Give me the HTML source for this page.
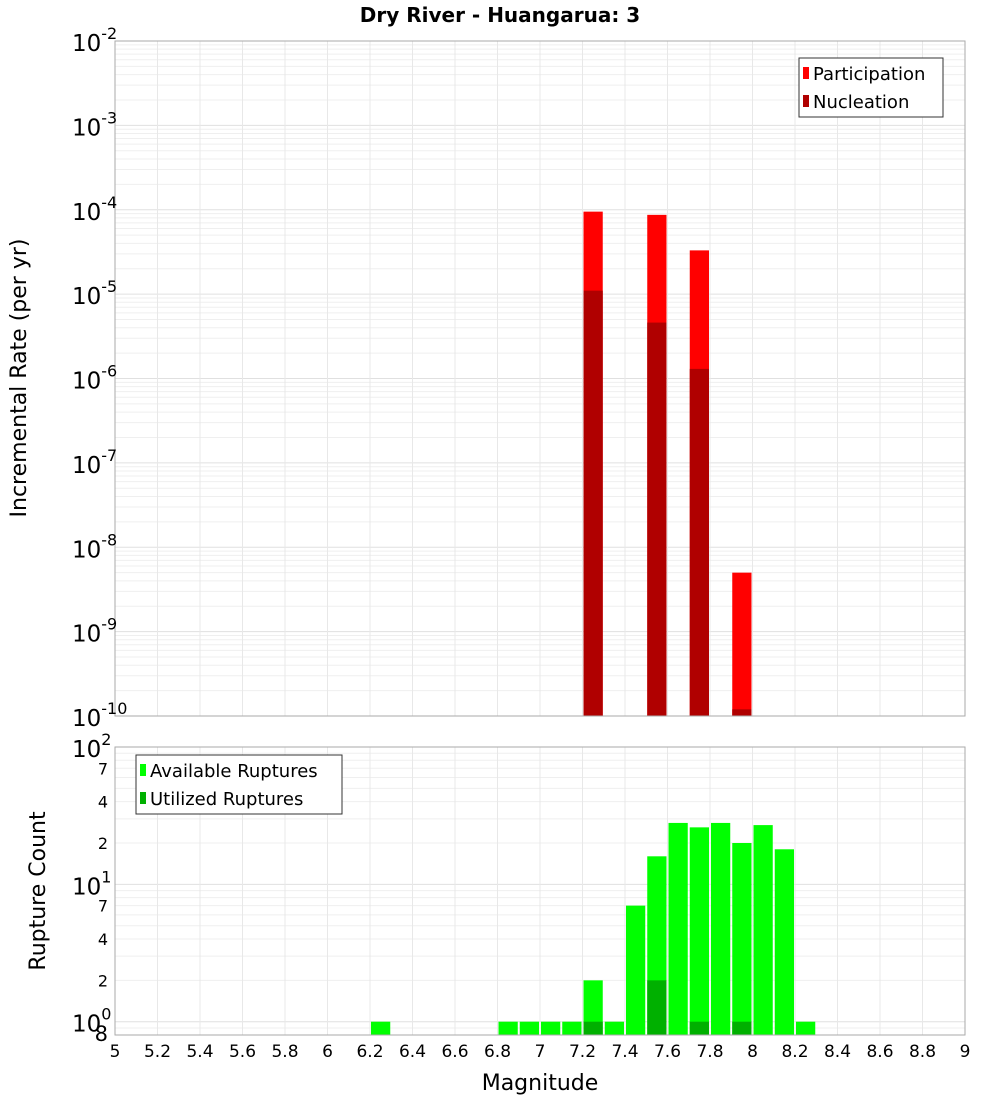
<!DOCTYPE html>
<html><head><meta charset="utf-8"><style>
body{margin:0;background:#fff;}
svg{font-family:"DejaVu Sans","Liberation Sans",sans-serif;}
</style></head><body>
<svg id="c" width="1000" height="1100" xmlns="http://www.w3.org/2000/svg">
<text x="500" y="22" text-anchor="middle" font-size="20" font-weight="bold">Dry River - Huangarua: 3</text>
<g id="top"></g>
<g id="bot"></g>
<text transform="translate(26,378) rotate(-90)" text-anchor="middle" font-size="22">Incremental Rate (per yr)</text>
<text transform="translate(45,891) rotate(-90)" text-anchor="middle" font-size="22">Rupture Count</text>
<text x="540" y="1090" text-anchor="middle" font-size="22">Magnitude</text>
</svg>
<script>
const magBins=[7.25,7.55,7.75,7.95];
const participation=[9.5e-5,8.7e-5,3.3e-5,5e-9];
const nucleation=[1.1e-5,4.6e-6,1.3e-6,1.2e-10];
const countBins=[6.25,6.85,6.95,7.05,7.15,7.25,7.35,7.45,7.55,7.65,7.75,7.85,7.95,8.05,8.15,8.25];
const available=[1,1,1,1,1,2,1,7,16,28,26,28,20,27,18,1];
const utilBins=[7.25,7.55,7.75,7.95];
const utilized=[1,2,1,1];
const xTicks=[5,5.2,5.4,5.6,5.8,6,6.2,6.4,6.6,6.8,7,7.2,7.4,7.6,7.8,8,8.2,8.4,8.6,8.8,9];
const topExp=[-2,-3,-4,-5,-6,-7,-8,-9,-10];
const botMinor=[7,4,2,7,4,2,8];
const botMinorVals=[70,40,20,7,4,2,0.8];

const NS="http://www.w3.org/2000/svg";
const L=115,R=965;
const X=m=>L+(m-5)/4*(R-L);
const T0=41,T1=716;
const yT=v=>T0+(-2-Math.log10(v))/8*(T1-T0);
const B0=747,B1=1035,bMin=Math.log10(0.8);
const yB=v=>B0+(2-Math.log10(v))/(2-bMin)*(B1-B0);
function mk(p,tag,a,txt){const e=document.createElementNS(NS,tag);for(const k in a)e.setAttribute(k,a[k]);if(txt!==undefined)e.textContent=txt;p.appendChild(e);return e;}
const topG=document.getElementById('top'),botG=document.getElementById('bot');

mk(topG,'rect',{x:L,y:T0,width:R-L,height:T1-T0,fill:'#fff'});
mk(botG,'rect',{x:L,y:B0,width:R-L,height:B1-B0,fill:'#fff'});
for(let d=-10;d<-2;d++)for(let k=1;k<10;k++){const y=yT(k*Math.pow(10,d));
 const g=mk(topG,'line',{x1:L,x2:R,y1:y,y2:y,stroke:k==1?'#e0e0e0':'#efefef','stroke-width':1});
 
 }
for(let d=-1;d<2;d++)for(let k=1;k<10;k++){const v=k*Math.pow(10,d);if(v<0.8)continue;const y=yB(v);
 const g=mk(botG,'line',{x1:L,x2:R,y1:y,y2:y,stroke:k==1?'#e0e0e0':'#efefef','stroke-width':1});
 
 }
xTicks.forEach(t=>{const x=X(t);
 let g=mk(topG,'line',{x1:x,x2:x,y1:T0,y2:T1,stroke:'#e8e8e8'});
 
 
 g=mk(botG,'line',{x1:x,x2:x,y1:B0,y2:B1,stroke:'#e8e8e8'});
 
 });

magBins.forEach((m,i)=>{
 let r=mk(topG,'rect',{x:X(m-0.05)+1,width:X(m+0.05)-X(m-0.05)-2,y:yT(participation[i]),height:T1-yT(participation[i]),fill:'#ff0000'});
 
 
 r=mk(topG,'rect',{x:X(m-0.05)+1,width:X(m+0.05)-X(m-0.05)-2,y:yT(nucleation[i]),height:T1-yT(nucleation[i]),fill:'#b00000'});
 
 });
countBins.forEach((m,i)=>{
 const r=mk(botG,'rect',{x:X(m-0.05)+1,width:X(m+0.05)-X(m-0.05)-2,y:yB(available[i]),height:B1-yB(available[i]),fill:'#00ff00'});
 
 });
utilBins.forEach((m,i)=>{
 const r=mk(botG,'rect',{x:X(m-0.05)+1,width:X(m+0.05)-X(m-0.05)-2,y:yB(utilized[i]),height:B1-yB(utilized[i]),fill:'#00b000'});
 
 });

mk(topG,'rect',{x:L,y:T0,width:R-L,height:T1-T0,fill:'none',stroke:'#aaa'});
mk(botG,'rect',{x:L,y:B0,width:R-L,height:B1-B0,fill:'none',stroke:'#aaa'});

topExp.forEach(e=>{const y=yT(Math.pow(10,e));
 const t=mk(topG,'text',{x:72,y:y+10,'font-size':23});
 
 
 mk(t,'tspan',{},'10');mk(t,'tspan',{dy:-12,'font-size':16},String(e));});
[[2,100],[1,10],[0,1]].forEach(([e,v])=>{const y=yB(v);
 const t=mk(botG,'text',{x:72,y:y+10,'font-size':23});
 
 
 mk(t,'tspan',{},'10');mk(t,'tspan',{dy:-12,'font-size':16},String(e));});
botMinor.forEach((lab,i)=>{const y=yB(botMinorVals[i]);
 const t=mk(botG,'text',{x:108,y:y+6,'font-size':i==6?21:16,'text-anchor':'end'},String(lab));
 
 });
xTicks.forEach(v=>{const t=mk(botG,'text',{x:X(v),y:1057,'font-size':17,'text-anchor':'middle'},String(v));
 
 });

function legend(p,x,y,w,items,name){const g=mk(p,'g',{});
 
 
 mk(g,'rect',{x:x,y:y,width:w,height:59,fill:'#fff',stroke:'#333'});
 items.forEach((it,i)=>{const cy=y+15+i*28;
  mk(g,'rect',{x:x+4,y:cy-6,width:6,height:12,fill:it[1]});
  const t=mk(g,'text',{x:x+14,y:cy+7,'font-size':18},it[0]);
  
  });}
legend(topG,799,58,144,[['Participation','#ff0000'],['Nucleation','#b00000']],'rate-legend');
legend(botG,136,755,206,[['Available Ruptures','#00ff00'],['Utilized Ruptures','#00b000']],'count-legend');
</script>
</body></html>
